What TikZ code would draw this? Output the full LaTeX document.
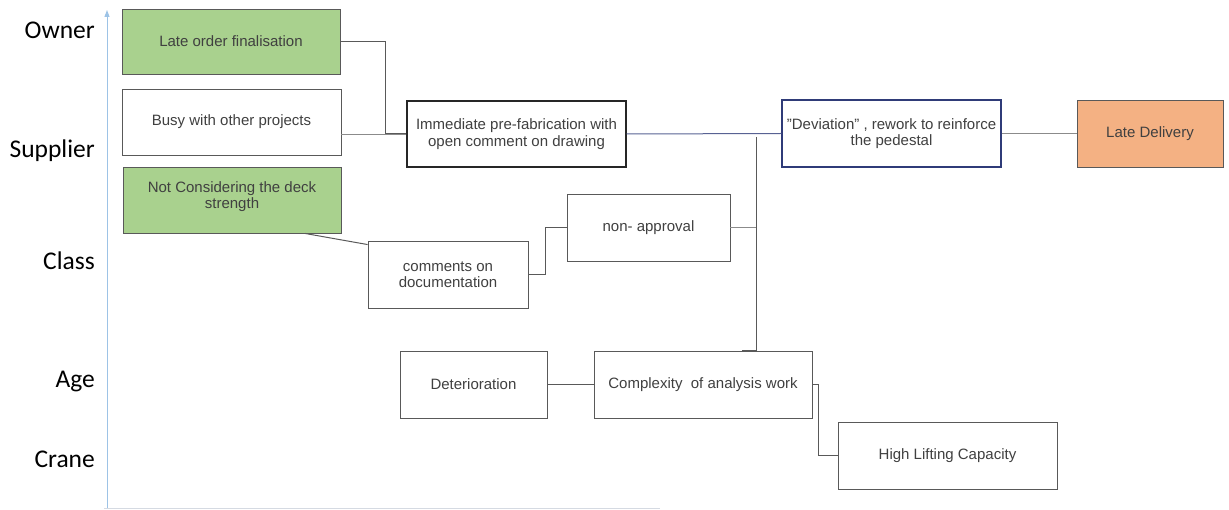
\documentclass[tikz,border=0pt]{standalone}
\usepackage{fontspec}
\setmainfont{Liberation Sans}[Ligatures=ResetAll]
\newfontfamily\axisfont{Carlito}
\usetikzlibrary{arrows.meta,calc}
\definecolor{txt}{HTML}{404040}
\definecolor{edge}{HTML}{595959}
\definecolor{greenfill}{HTML}{A9D18E}
\definecolor{orangefill}{HTML}{F4B183}
\definecolor{navy}{HTML}{2F3B78}
\definecolor{axisblue}{HTML}{9DC3E6}
\definecolor{axisgray}{HTML}{D5DAE2}
\begin{document}
\begin{tikzpicture}[x=1pt,y=-1pt,
  box/.style={draw=edge, line width=0.9pt, fill=white, inner sep=2pt, align=center,
    text=txt, font=\fontsize{15}{16.5}\selectfont},
  green/.style={box, fill=greenfill},
  orange/.style={box, fill=orangefill},
  link/.style={draw=edge, line width=1pt},
  lightlink/.style={draw=edge!70, line width=0.9pt},
  axlabel/.style={anchor=east, font=\axisfont\fontsize{25.5}{28}\selectfont, text=black, inner sep=0pt}
]
\useasboundingbox (0,0) rectangle (1229,510);
% axes
\draw[axisgray, line width=1pt] (104,508) -- (660,508);
\draw[axisblue, line width=1pt, -{Triangle[length=7pt,width=5pt]}] (107,508) -- (107,10);
\node[axlabel] (owner) at (95,30) {Owner};
\node[axlabel] (supplier) at (95,151) {Supplier};
\node[axlabel] (class) at (95,261) {Class};
\node[axlabel] (age) at (95,382) {Age};
\node[axlabel] (crane) at (95,459) {Crane};
% boxes
\node[green, minimum width=218, minimum height=65] (late) at (231,41.5) {Late order finalisation};
\node[box, minimum width=219, minimum height=66, text depth=4pt] (busy) at (231.5,122) {Busy with other projects};
\node[green, minimum width=218, minimum height=66, text depth=10pt] (notc) at (232,200) {Not Considering the deck\\strength};
\node[box, draw=black!85, line width=1.2pt, minimum width=219, minimum height=66] (imm) at (516.5,134) {Immediate pre-fabrication with\\open comment on drawing};
\node[box, draw=navy, line width=1.1pt, minimum width=219, minimum height=67] (dev) at (891.5,133.5) {"Deviation" , rework to reinforce\\the pedestal};
\node[orange, minimum width=146, minimum height=67] (ld) at (1150,133.5) {Late Delivery};
\node[box, minimum width=160, minimum height=67] (com) at (448,274.5) {comments on\\documentation};
\node[box, minimum width=163, minimum height=67] (non) at (648.5,227.5) {non- approval};
\node[box, minimum width=147, minimum height=67] (det) at (473.5,384.5) {Deterioration};
\node[box, minimum width=218, minimum height=67] (cplx) at (703,384.5) {Complexity \ of analysis work};
\node[box, minimum width=219, minimum height=67] (hlc) at (947.5,455.5) {High Lifting Capacity};
% connectors
\draw[link] (late.east) -- ++(45,0) |- (imm.west);
\draw[lightlink] (busy.east |- imm.west) -- (imm.west);
\draw[navy!80, line width=1pt] (imm.east) -- (dev.west);
\draw[lightlink] (dev.east) -- (ld.west);
\coordinate (jt) at (756,137);
\coordinate (jb) at (cplx.north -| jt);
\draw[link] (jt) -- (jb) -- ++(-14,0);
\draw[lightlink] (non.east) -- (non.east -| jt);
\draw[link] (com.east) -- ++(17,0) |- (non.west);
\draw[link] ($(notc.south)+(73,0)$) -- ($(com.north west)+(0,4)$);
\draw[link] (det.east) -- (cplx.west);
\draw[link] (cplx.east) -- ++(6,0) |- (hlc.west);
\end{tikzpicture}
\end{document}
